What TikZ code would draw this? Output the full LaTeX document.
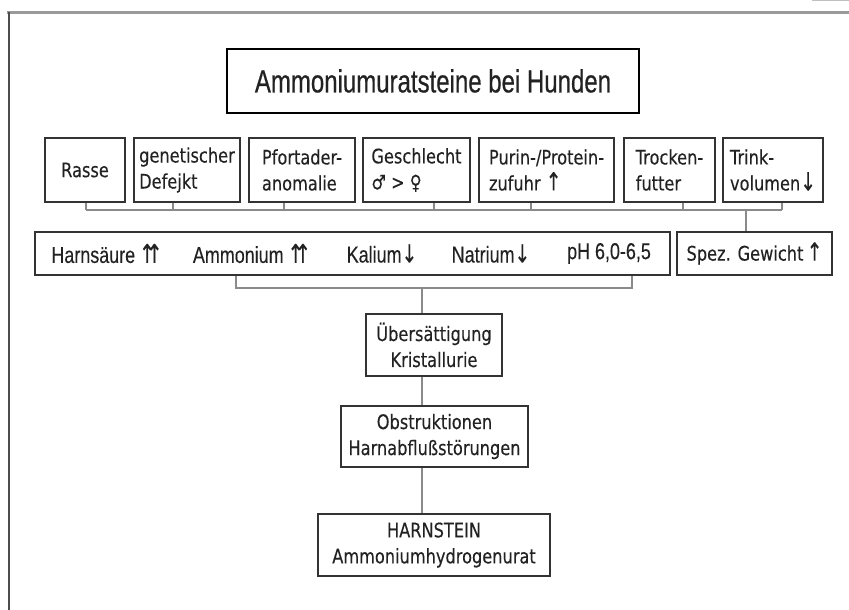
\documentclass[tikz,border=0pt]{standalone}
\usepackage{fontspec}
\setmainfont{DejaVu Sans}
\newfontfamily\hfont{DejaVu Sans}[FakeStretch=0.81,FakeBold=0.25]
\newfontfamily\nfont{Liberation Sans}[FakeStretch=0.78,FakeBold=0.2]
\newfontfamily\tfont{Liberation Sans}[FakeStretch=0.75,FakeBold=0.5]
\newfontfamily\symf{DejaVu Sans}[FakeStretch=0.75,FakeBold=0.3]
\newcommand{\upup}{{\symf\fontsize{26}{22}\selectfont ↑\kern-0.35em↑}}
\newcommand{\uar}{{\symf\fontsize{25}{22}\selectfont ↑}}
\newcommand{\dnar}{{\symf\fontsize{25}{22}\selectfont ↓}}
\definecolor{boxline}{HTML}{333333}
\definecolor{conn}{HTML}{8A8A8A}
\definecolor{frame}{HTML}{9A9A9A}
\definecolor{ink}{HTML}{222222}
\tikzset{
  cause/.style={draw=boxline, line width=1.4pt, minimum height=64pt, align=left, inner sep=2pt,
    text=ink, font=\hfont\fontsize{20}{26}\selectfont},
  chain/.style={draw=boxline, line width=1.4pt, align=center, inner sep=2pt,
    text=ink, font=\hfont\fontsize{20}{26}\selectfont},
  urin/.style={font=\nfont\fontsize{23}{24}\selectfont, inner sep=0pt, text=ink},
  link/.style={draw=conn, line width=1.5pt},
}
\begin{document}
\begin{tikzpicture}[x=1pt,y=-1pt]
\useasboundingbox (0,0) rectangle (849,610);
% frame
\draw[frame, line width=3pt] (7,13) -- (849,13);
\draw[black!70, line width=2pt] (9,12) -- (9,610);
\draw[black!25, line width=1.2pt] (812,0.6) -- (849,0.6);
% title
\node[draw=black, line width=2.8pt, minimum width=412pt, minimum height=64pt, text=ink,
  font=\tfont\fontsize{32}{34}\selectfont] (title) at (433,81) {Ammoniumuratsteine bei Hunden};
% causes
\node[cause, minimum width=80pt, align=center] (rasse) at (85,170) {Rasse};
\node[cause, minimum width=106pt] (gen) at (187,170) {genetischer\\Defejkt};
\node[cause, minimum width=106pt] (pfo) at (302,170) {Pfortader-\\anomalie};
\node[cause, minimum width=107pt] (ges) at (416.5,170) {Geschlecht\\♂ > ♀};
\node[cause, minimum width=135pt] (pur) at (546.5,170) {Purin-/Protein-\\zufuhr \uar};
\node[cause, minimum width=91pt] (tro) at (669.5,170) {Trocken-\\futter};
\node[cause, minimum width=100pt] (tri) at (773,170) {Trink-\\volumen\dnar};
% bus
\coordinate (busL) at (86,210);
\coordinate (busR) at (782,210);
\coordinate (busS) at (746,210);
\draw[link] (busL) -- (busR);
\draw[link] ([xshift=1pt]rasse.south) -- ([xshift=1pt]rasse.south |- busL);
\draw[link] ([xshift=-14pt]gen.south) -- ([xshift=-14pt]gen.south |- busL);
\draw[link] ([xshift=-18pt]pfo.south) -- ([xshift=-18pt]pfo.south |- busL);
\draw[link] ([xshift=17.5pt]ges.south) -- ([xshift=17.5pt]ges.south |- busL);
\draw[link] ([xshift=-15.5pt]pur.south) -- ([xshift=-15.5pt]pur.south |- busL);
\draw[link] ([xshift=13.5pt]tro.south) -- ([xshift=13.5pt]tro.south |- busL);
\draw[link] ([xshift=9pt]tri.south) -- ([xshift=9pt]tri.south |- busL);
% urine row
\node[draw=boxline, line width=1.4pt, minimum width=635pt, minimum height=43pt] (urine) at (352.5,253.5) {};
\node[urin] (hs) at (107,253.5) {Harnsäure\,\upup};
\node[urin] (am) at (252,253.5) {Ammonium\,\upup};
\node[urin] (ka) at (382,253.5) {Kalium\dnar};
\node[urin] (na) at (491,253.5) {Natrium\dnar};
\node[urin] (ph) at (609,253.5) {pH 6,0-6,5};
\node[draw=boxline, line width=1.4pt, minimum width=155pt, minimum height=43pt, text=ink,
  font=\hfont\fontsize{20}{24}\selectfont, inner sep=0pt] (spez) at (754.5,253.5) {Spez. Gewicht\,\uar};
\draw[link] (busS) -- (busS |- spez.north);
% bracket
\coordinate (brL) at (236,288);
\coordinate (brR) at (632,288);
\coordinate (brM) at (422,288);
\draw[link] (brL |- urine.south) -- (brL) -- (brR) -- (brR |- urine.south);
% chain
\node[chain, minimum width=136pt, minimum height=62pt] (ueb) at (434,345) {Übersättigung\\Kristallurie};
\node[chain, minimum width=187pt, minimum height=61pt] (obs) at (434.5,436.5) {Obstruktionen\\Harnabflußstörungen};
\node[chain, minimum width=232pt, minimum height=62pt] (harn) at (434,545) {HARNSTEIN\\Ammoniumhydrogenurat};
\draw[link] (brM) -- (brM |- ueb.north);
\draw[link] (brM |- ueb.south) -- (brM |- obs.north);
\draw[link] (brM |- obs.south) -- (brM |- harn.north);
\end{tikzpicture}
\end{document}
